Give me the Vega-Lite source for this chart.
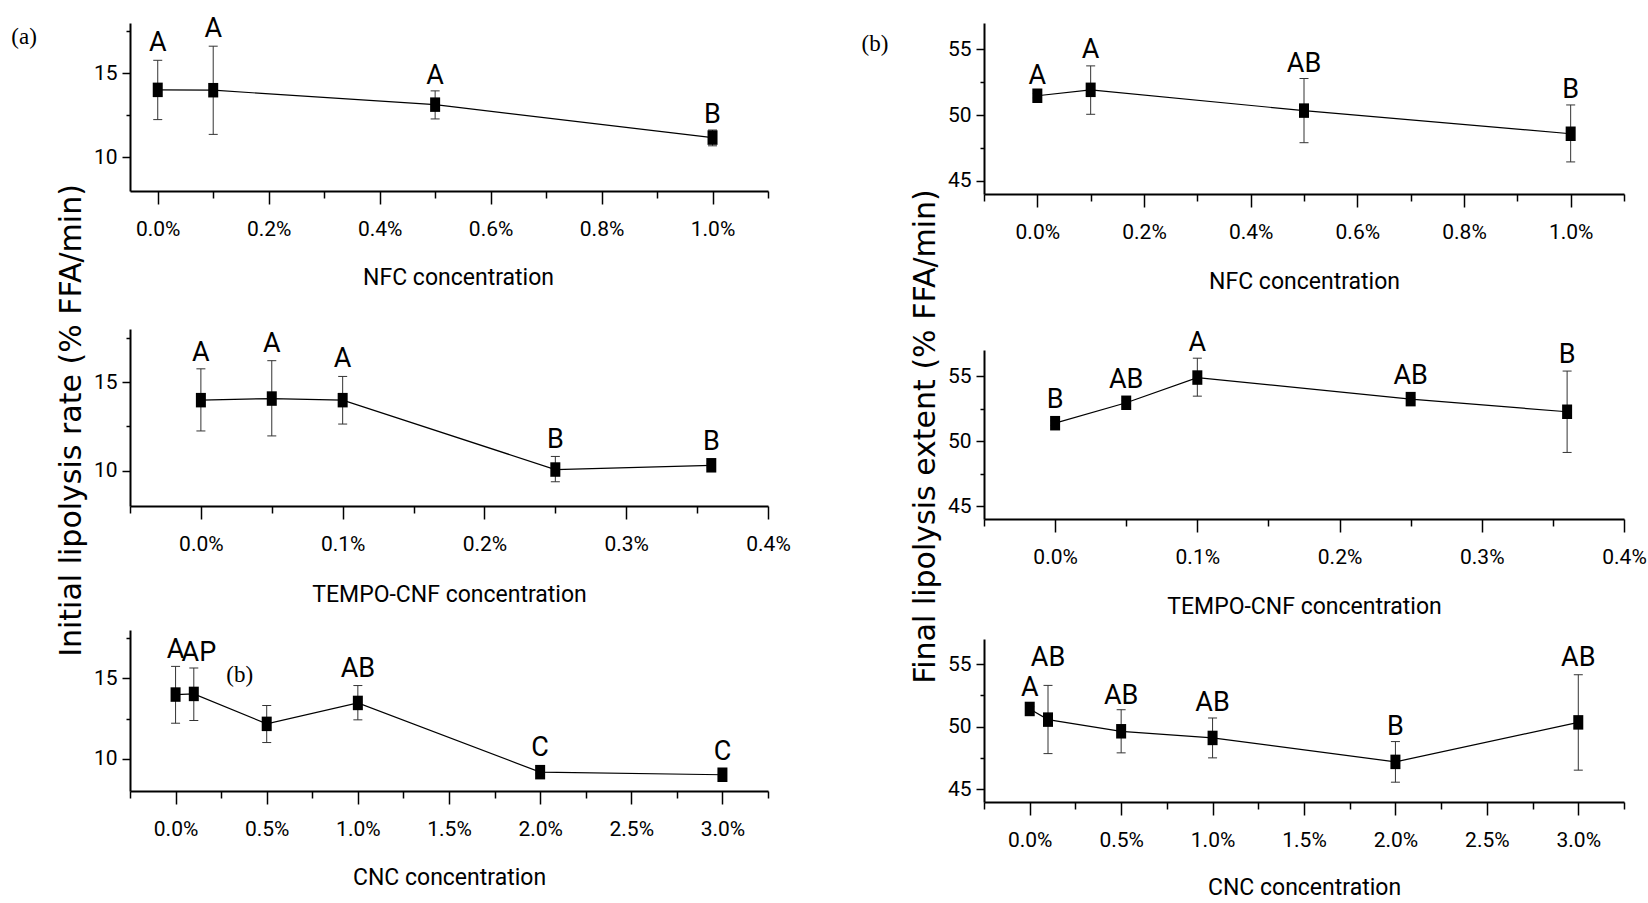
{
  "$schema": "https://vega.github.io/schema/vega-lite/v6.json",
  "background": "white",
  "padding": {"left": 11, "top": 15, "right": 3, "bottom": 0},
  "autosize": {"type": "pad"},
  "spacing": 70,
  "hconcat": [
    {
      "bounds": "flush",
      "spacing": 0,
      "vconcat": [
        {
          "width": 638, "height": 168,
          "data": {"values": [
            {"x": 0, "mean": 14.02, "lo": 12.25, "hi": 15.78, "label": "A", "lx": 0, "ly": 16.33},
            {"x": 0.1, "mean": 14.0, "lo": 11.37, "hi": 16.62, "label": "A", "lx": 0.1, "ly": 17.15},
            {"x": 0.5, "mean": 13.14, "lo": 12.29, "hi": 13.96, "label": "A", "lx": 0.5, "ly": 14.37},
            {"x": 1.0, "mean": 11.18, "lo": 10.69, "hi": 11.63, "label": "B", "lx": 1.0, "ly": 12.06}
          ]},
          "resolve": {"axis": {"x": "independent", "y": "independent"}},
          "layer": [
            {"mark": {"type": "line", "color": "black", "strokeWidth": 1.2},
             "encoding": {
               "x": {"field": "x", "type": "quantitative", "scale": {"domain": [-0.05, 1.1], "nice": false, "zero": false},
                     "axis": {"values": [0, 0.2, 0.4, 0.6, 0.8, 1.0], "labelExpr": "format(datum.value, '.1f') + '%'", "title": "NFC concentration", "titleX": 328, "titleY": 93}},
               "y": {"field": "mean", "type": "quantitative", "scale": {"domain": [8, 18], "nice": false, "zero": false},
                     "axis": {"values": [10, 15], "title": null}}
             }},
            {"mark": {"type": "rule", "color": "#333333", "strokeWidth": 1},
             "encoding": {
               "x": {"field": "x", "type": "quantitative", "scale": {"domain": [-0.05, 1.1], "nice": false, "zero": false},
                     "axis": {"orient": "bottom", "values": [0.1, 0.3, 0.5, 0.7, 0.9, 1.1], "labels": false, "domain": false, "tickSize": 7, "title": null}},
               "y": {"field": "lo", "type": "quantitative", "scale": {"domain": [8, 18], "nice": false, "zero": false},
                     "axis": {"orient": "left", "values": [12.5, 17.5], "labels": false, "domain": false, "tickSize": 4, "title": null}},
               "y2": {"field": "hi"}
             }},
            {"mark": {"type": "tick", "orient": "horizontal", "size": 9, "thickness": 1, "color": "#333333", "opacity": 1},
             "encoding": {
               "x": {"field": "x", "type": "quantitative", "scale": {"domain": [-0.05, 1.1], "nice": false, "zero": false}, "axis": null},
               "y": {"field": "lo", "type": "quantitative", "scale": {"domain": [8, 18], "nice": false, "zero": false}, "axis": null}
             }},
            {"mark": {"type": "tick", "orient": "horizontal", "size": 9, "thickness": 1, "color": "#333333", "opacity": 1},
             "encoding": {
               "x": {"field": "x", "type": "quantitative", "scale": {"domain": [-0.05, 1.1], "nice": false, "zero": false}, "axis": null},
               "y": {"field": "hi", "type": "quantitative", "scale": {"domain": [8, 18], "nice": false, "zero": false}, "axis": null}
             }},
            {"mark": {"type": "point", "shape": "M-0.69,-1L0.69,-1L0.69,1L-0.69,1Z", "size": 210, "filled": true, "color": "black", "opacity": 1},
             "encoding": {
               "x": {"field": "x", "type": "quantitative", "scale": {"domain": [-0.05, 1.1], "nice": false, "zero": false}, "axis": null},
               "y": {"field": "mean", "type": "quantitative", "scale": {"domain": [8, 18], "nice": false, "zero": false}, "axis": null}
             }},
            {"mark": {"type": "text", "font": "Roboto", "fontSize": 27, "baseline": "alphabetic", "align": "center", "color": "black"},
             "encoding": {
               "x": {"field": "lx", "type": "quantitative", "scale": {"domain": [-0.05, 1.1], "nice": false, "zero": false}, "axis": null},
               "y": {"field": "ly", "type": "quantitative", "scale": {"domain": [8, 18], "nice": false, "zero": false}, "axis": null},
               "text": {"field": "label"}
             }},
            {"data": {"values": [{"tag": "(a)"}]},
             "mark": {"type": "text", "font": "Liberation Serif", "fontSize": 23, "baseline": "middle", "align": "left", "color": "black"},
             "encoding": {
               "x": {"datum": -0.264, "type": "quantitative", "scale": {"domain": [-0.05, 1.1], "nice": false, "zero": false}, "axis": null},
               "y": {"datum": 17.17, "type": "quantitative", "scale": {"domain": [8, 18], "nice": false, "zero": false}, "axis": null},
               "text": {"field": "tag"}
             }}
          ]
        },
        {"width": 10, "height": 138, "data": {"values": []}, "mark": "point"},
        {
          "width": 638, "height": 177,
          "data": {"values": [
            {"x": 0, "mean": 13.98, "lo": 12.24, "hi": 15.75, "label": "A", "lx": 0, "ly": 16.21},
            {"x": 0.05, "mean": 14.07, "lo": 11.96, "hi": 16.21, "label": "A", "lx": 0.05, "ly": 16.68},
            {"x": 0.1, "mean": 13.98, "lo": 12.63, "hi": 15.32, "label": "A", "lx": 0.1, "ly": 15.84},
            {"x": 0.25, "mean": 10.06, "lo": 9.37, "hi": 10.8, "label": "B", "lx": 0.25, "ly": 11.27},
            {"x": 0.36, "mean": 10.3, "lo": 10.2, "hi": 10.4, "label": "B", "lx": 0.36, "ly": 11.18}
          ]},
          "resolve": {"axis": {"x": "independent", "y": "independent"}},
          "layer": [
            {"mark": {"type": "line", "color": "black", "strokeWidth": 1.2},
             "encoding": {
               "x": {"field": "x", "type": "quantitative", "scale": {"domain": [-0.05, 0.4], "nice": false, "zero": false},
                     "axis": {"values": [0, 0.1, 0.2, 0.3, 0.4], "labelExpr": "format(datum.value, '.1f') + '%'", "title": "TEMPO-CNF concentration", "titleX": 319, "titleY": 95}},
               "y": {"field": "mean", "type": "quantitative", "scale": {"domain": [8, 18], "nice": false, "zero": false},
                     "axis": {"values": [10, 15], "title": "Initial lipolysis rate (% FFA/min)", "titleX": -50, "titleY": 91}}
             }},
            {"mark": {"type": "rule", "color": "#333333", "strokeWidth": 1},
             "encoding": {
               "x": {"field": "x", "type": "quantitative", "scale": {"domain": [-0.05, 0.4], "nice": false, "zero": false},
                     "axis": {"orient": "bottom", "values": [-0.05, 0.05, 0.15, 0.25, 0.35], "labels": false, "domain": false, "tickSize": 7, "title": null}},
               "y": {"field": "lo", "type": "quantitative", "scale": {"domain": [8, 18], "nice": false, "zero": false},
                     "axis": {"orient": "left", "values": [12.5, 17.5], "labels": false, "domain": false, "tickSize": 4, "title": null}},
               "y2": {"field": "hi"}
             }},
            {"mark": {"type": "tick", "orient": "horizontal", "size": 9, "thickness": 1, "color": "#333333", "opacity": 1},
             "encoding": {
               "x": {"field": "x", "type": "quantitative", "scale": {"domain": [-0.05, 0.4], "nice": false, "zero": false}, "axis": null},
               "y": {"field": "lo", "type": "quantitative", "scale": {"domain": [8, 18], "nice": false, "zero": false}, "axis": null}
             }},
            {"mark": {"type": "tick", "orient": "horizontal", "size": 9, "thickness": 1, "color": "#333333", "opacity": 1},
             "encoding": {
               "x": {"field": "x", "type": "quantitative", "scale": {"domain": [-0.05, 0.4], "nice": false, "zero": false}, "axis": null},
               "y": {"field": "hi", "type": "quantitative", "scale": {"domain": [8, 18], "nice": false, "zero": false}, "axis": null}
             }},
            {"mark": {"type": "point", "shape": "M-0.69,-1L0.69,-1L0.69,1L-0.69,1Z", "size": 210, "filled": true, "color": "black", "opacity": 1},
             "encoding": {
               "x": {"field": "x", "type": "quantitative", "scale": {"domain": [-0.05, 0.4], "nice": false, "zero": false}, "axis": null},
               "y": {"field": "mean", "type": "quantitative", "scale": {"domain": [8, 18], "nice": false, "zero": false}, "axis": null}
             }},
            {"mark": {"type": "text", "font": "Roboto", "fontSize": 27, "baseline": "alphabetic", "align": "center", "color": "black"},
             "encoding": {
               "x": {"field": "lx", "type": "quantitative", "scale": {"domain": [-0.05, 0.4], "nice": false, "zero": false}, "axis": null},
               "y": {"field": "ly", "type": "quantitative", "scale": {"domain": [8, 18], "nice": false, "zero": false}, "axis": null},
               "text": {"field": "label"}
             }}
          ]
        },
        {"width": 10, "height": 124, "data": {"values": []}, "mark": "point"},
        {
          "width": 638, "height": 161,
          "data": {"values": [
            {"x": 0, "mean": 13.99, "lo": 12.21, "hi": 15.74, "label": "A", "lx": 0, "ly": 16.26},
            {"x": 0.1, "mean": 14.03, "lo": 12.38, "hi": 15.64, "label": "AP", "lx": 0.128, "ly": 16.1},
            {"x": 0.5, "mean": 12.17, "lo": 11.01, "hi": 13.31, "label": "", "lx": 0.5, "ly": 13.8},
            {"x": 1.0, "mean": 13.47, "lo": 12.42, "hi": 14.55, "label": "AB", "lx": 1.0, "ly": 15.06},
            {"x": 2.0, "mean": 9.17, "lo": 9.07, "hi": 9.27, "label": "C", "lx": 2.0, "ly": 10.15},
            {"x": 3.0, "mean": 9.01, "lo": 8.91, "hi": 9.11, "label": "C", "lx": 3.0, "ly": 9.94}
          ]},
          "resolve": {"axis": {"x": "independent", "y": "independent"}},
          "layer": [
            {"mark": {"type": "line", "color": "black", "strokeWidth": 1.2},
             "encoding": {
               "x": {"field": "x", "type": "quantitative", "scale": {"domain": [-0.25, 3.25], "nice": false, "zero": false},
                     "axis": {"values": [0, 0.5, 1, 1.5, 2, 2.5, 3], "labelExpr": "format(datum.value, '.1f') + '%'", "title": "CNC concentration", "titleX": 319, "titleY": 93}},
               "y": {"field": "mean", "type": "quantitative", "scale": {"domain": [8, 18], "nice": false, "zero": false},
                     "axis": {"values": [10, 15], "title": null}}
             }},
            {"mark": {"type": "rule", "color": "#333333", "strokeWidth": 1},
             "encoding": {
               "x": {"field": "x", "type": "quantitative", "scale": {"domain": [-0.25, 3.25], "nice": false, "zero": false},
                     "axis": {"orient": "bottom", "values": [-0.25, 0.25, 0.75, 1.25, 1.75, 2.25, 2.75, 3.25], "labels": false, "domain": false, "tickSize": 7, "title": null}},
               "y": {"field": "lo", "type": "quantitative", "scale": {"domain": [8, 18], "nice": false, "zero": false},
                     "axis": {"orient": "left", "values": [12.5, 17.5], "labels": false, "domain": false, "tickSize": 4, "title": null}},
               "y2": {"field": "hi"}
             }},
            {"mark": {"type": "tick", "orient": "horizontal", "size": 9, "thickness": 1, "color": "#333333", "opacity": 1},
             "encoding": {
               "x": {"field": "x", "type": "quantitative", "scale": {"domain": [-0.25, 3.25], "nice": false, "zero": false}, "axis": null},
               "y": {"field": "lo", "type": "quantitative", "scale": {"domain": [8, 18], "nice": false, "zero": false}, "axis": null}
             }},
            {"mark": {"type": "tick", "orient": "horizontal", "size": 9, "thickness": 1, "color": "#333333", "opacity": 1},
             "encoding": {
               "x": {"field": "x", "type": "quantitative", "scale": {"domain": [-0.25, 3.25], "nice": false, "zero": false}, "axis": null},
               "y": {"field": "hi", "type": "quantitative", "scale": {"domain": [8, 18], "nice": false, "zero": false}, "axis": null}
             }},
            {"mark": {"type": "point", "shape": "M-0.69,-1L0.69,-1L0.69,1L-0.69,1Z", "size": 210, "filled": true, "color": "black", "opacity": 1},
             "encoding": {
               "x": {"field": "x", "type": "quantitative", "scale": {"domain": [-0.25, 3.25], "nice": false, "zero": false}, "axis": null},
               "y": {"field": "mean", "type": "quantitative", "scale": {"domain": [8, 18], "nice": false, "zero": false}, "axis": null}
             }},
            {"mark": {"type": "text", "font": "Roboto", "fontSize": 27, "baseline": "alphabetic", "align": "center", "color": "black"},
             "encoding": {
               "x": {"field": "lx", "type": "quantitative", "scale": {"domain": [-0.25, 3.25], "nice": false, "zero": false}, "axis": null},
               "y": {"field": "ly", "type": "quantitative", "scale": {"domain": [8, 18], "nice": false, "zero": false}, "axis": null},
               "text": {"field": "label"}
             }},
            {"data": {"values": [{"tag": "(b)"}]},
             "mark": {"type": "text", "font": "Liberation Serif", "fontSize": 23, "baseline": "middle", "align": "left", "color": "black"},
             "encoding": {
               "x": {"datum": 0.278, "type": "quantitative", "scale": {"domain": [-0.25, 3.25], "nice": false, "zero": false}, "axis": null},
               "y": {"datum": 15.22, "type": "quantitative", "scale": {"domain": [8, 18], "nice": false, "zero": false}, "axis": null},
               "text": {"field": "tag"}
             }}
          ]
        }
      ]
    },
    {
      "bounds": "flush",
      "spacing": 0,
      "vconcat": [
        {
          "width": 640, "height": 171,
          "data": {"values": [
            {"x": 0, "mean": 51.47, "lo": 51.3, "hi": 51.65, "label": "A", "lx": 0, "ly": 52.35},
            {"x": 0.1, "mean": 51.92, "lo": 50.06, "hi": 53.74, "label": "A", "lx": 0.1, "ly": 54.37},
            {"x": 0.5, "mean": 50.34, "lo": 47.9, "hi": 52.78, "label": "AB", "lx": 0.5, "ly": 53.29},
            {"x": 1.0, "mean": 48.58, "lo": 46.44, "hi": 50.77, "label": "B", "lx": 1.0, "ly": 51.32}
          ]},
          "resolve": {"axis": {"x": "independent", "y": "independent"}},
          "layer": [
            {"mark": {"type": "line", "color": "black", "strokeWidth": 1.2},
             "encoding": {
               "x": {"field": "x", "type": "quantitative", "scale": {"domain": [-0.1, 1.1], "nice": false, "zero": false},
                     "axis": {"values": [0, 0.2, 0.4, 0.6, 0.8, 1.0], "labelExpr": "format(datum.value, '.1f') + '%'", "title": "NFC concentration", "titleX": 320, "titleY": 94}},
               "y": {"field": "mean", "type": "quantitative", "scale": {"domain": [44, 57], "nice": false, "zero": false},
                     "axis": {"values": [45, 50, 55], "title": null}}
             }},
            {"mark": {"type": "rule", "color": "#333333", "strokeWidth": 1},
             "encoding": {
               "x": {"field": "x", "type": "quantitative", "scale": {"domain": [-0.1, 1.1], "nice": false, "zero": false},
                     "axis": {"orient": "bottom", "values": [-0.1, 0.1, 0.3, 0.5, 0.7, 0.9, 1.1], "labels": false, "domain": false, "tickSize": 7, "title": null}},
               "y": {"field": "lo", "type": "quantitative", "scale": {"domain": [44, 57], "nice": false, "zero": false},
                     "axis": {"orient": "left", "values": [47.5, 52.5], "labels": false, "domain": false, "tickSize": 4, "title": null}},
               "y2": {"field": "hi"}
             }},
            {"mark": {"type": "tick", "orient": "horizontal", "size": 9, "thickness": 1, "color": "#333333", "opacity": 1},
             "encoding": {
               "x": {"field": "x", "type": "quantitative", "scale": {"domain": [-0.1, 1.1], "nice": false, "zero": false}, "axis": null},
               "y": {"field": "lo", "type": "quantitative", "scale": {"domain": [44, 57], "nice": false, "zero": false}, "axis": null}
             }},
            {"mark": {"type": "tick", "orient": "horizontal", "size": 9, "thickness": 1, "color": "#333333", "opacity": 1},
             "encoding": {
               "x": {"field": "x", "type": "quantitative", "scale": {"domain": [-0.1, 1.1], "nice": false, "zero": false}, "axis": null},
               "y": {"field": "hi", "type": "quantitative", "scale": {"domain": [44, 57], "nice": false, "zero": false}, "axis": null}
             }},
            {"mark": {"type": "point", "shape": "M-0.69,-1L0.69,-1L0.69,1L-0.69,1Z", "size": 210, "filled": true, "color": "black", "opacity": 1},
             "encoding": {
               "x": {"field": "x", "type": "quantitative", "scale": {"domain": [-0.1, 1.1], "nice": false, "zero": false}, "axis": null},
               "y": {"field": "mean", "type": "quantitative", "scale": {"domain": [44, 57], "nice": false, "zero": false}, "axis": null}
             }},
            {"mark": {"type": "text", "font": "Roboto", "fontSize": 27, "baseline": "alphabetic", "align": "center", "color": "black"},
             "encoding": {
               "x": {"field": "lx", "type": "quantitative", "scale": {"domain": [-0.1, 1.1], "nice": false, "zero": false}, "axis": null},
               "y": {"field": "ly", "type": "quantitative", "scale": {"domain": [44, 57], "nice": false, "zero": false}, "axis": null},
               "text": {"field": "label"}
             }},
            {"data": {"values": [{"tag": "(b)"}]},
             "mark": {"type": "text", "font": "Liberation Serif", "fontSize": 23, "baseline": "middle", "align": "left", "color": "black"},
             "encoding": {
               "x": {"datum": -0.3295, "type": "quantitative", "scale": {"domain": [-0.1, 1.1], "nice": false, "zero": false}, "axis": null},
               "y": {"datum": 55.4, "type": "quantitative", "scale": {"domain": [44, 57], "nice": false, "zero": false}, "axis": null},
               "text": {"field": "tag"}
             }},
            {"data": {"values": [{"tag": ""}]},
             "mark": {"type": "text", "font": "Roboto", "fontSize": 27, "baseline": "alphabetic", "align": "center", "color": "black"},
             "encoding": {
               "x": {"datum": 0.1, "type": "quantitative", "scale": {"domain": [-0.1, 1.1], "nice": false, "zero": false}, "axis": null},
               "y": {"datum": 55.91, "type": "quantitative", "scale": {"domain": [44, 57], "nice": false, "zero": false}, "axis": null},
               "text": {"field": "tag"}
             }}
          ]
        },
        {"width": 10, "height": 156, "data": {"values": []}, "mark": "point"},
        {
          "width": 640, "height": 169,
          "data": {"values": [
            {"x": 0, "mean": 51.37, "lo": 51.2, "hi": 51.55, "label": "B", "lx": 0, "ly": 52.51},
            {"x": 0.05, "mean": 52.94, "lo": 52.8, "hi": 53.1, "label": "AB", "lx": 0.05, "ly": 54.11},
            {"x": 0.1, "mean": 54.88, "lo": 53.45, "hi": 56.37, "label": "A", "lx": 0.1, "ly": 56.96},
            {"x": 0.25, "mean": 53.22, "lo": 53.1, "hi": 53.35, "label": "AB", "lx": 0.25, "ly": 54.42},
            {"x": 0.36, "mean": 52.25, "lo": 49.12, "hi": 55.38, "label": "B", "lx": 0.36, "ly": 55.99}
          ]},
          "resolve": {"axis": {"x": "independent", "y": "independent"}},
          "layer": [
            {"mark": {"type": "line", "color": "black", "strokeWidth": 1.2},
             "encoding": {
               "x": {"field": "x", "type": "quantitative", "scale": {"domain": [-0.05, 0.4], "nice": false, "zero": false},
                     "axis": {"values": [0, 0.1, 0.2, 0.3, 0.4], "labelExpr": "format(datum.value, '.1f') + '%'", "title": "TEMPO-CNF concentration", "titleX": 320, "titleY": 94}},
               "y": {"field": "mean", "type": "quantitative", "scale": {"domain": [44, 57], "nice": false, "zero": false},
                     "axis": {"values": [45, 50, 55], "title": "Final lipolysis extent (% FFA/min)", "titleX": -50, "titleY": 86}}
             }},
            {"mark": {"type": "rule", "color": "#333333", "strokeWidth": 1},
             "encoding": {
               "x": {"field": "x", "type": "quantitative", "scale": {"domain": [-0.05, 0.4], "nice": false, "zero": false},
                     "axis": {"orient": "bottom", "values": [-0.05, 0.05, 0.15, 0.25, 0.35], "labels": false, "domain": false, "tickSize": 7, "title": null}},
               "y": {"field": "lo", "type": "quantitative", "scale": {"domain": [44, 57], "nice": false, "zero": false},
                     "axis": {"orient": "left", "values": [47.5, 52.5], "labels": false, "domain": false, "tickSize": 4, "title": null}},
               "y2": {"field": "hi"}
             }},
            {"mark": {"type": "tick", "orient": "horizontal", "size": 9, "thickness": 1, "color": "#333333", "opacity": 1},
             "encoding": {
               "x": {"field": "x", "type": "quantitative", "scale": {"domain": [-0.05, 0.4], "nice": false, "zero": false}, "axis": null},
               "y": {"field": "lo", "type": "quantitative", "scale": {"domain": [44, 57], "nice": false, "zero": false}, "axis": null}
             }},
            {"mark": {"type": "tick", "orient": "horizontal", "size": 9, "thickness": 1, "color": "#333333", "opacity": 1},
             "encoding": {
               "x": {"field": "x", "type": "quantitative", "scale": {"domain": [-0.05, 0.4], "nice": false, "zero": false}, "axis": null},
               "y": {"field": "hi", "type": "quantitative", "scale": {"domain": [44, 57], "nice": false, "zero": false}, "axis": null}
             }},
            {"mark": {"type": "point", "shape": "M-0.69,-1L0.69,-1L0.69,1L-0.69,1Z", "size": 210, "filled": true, "color": "black", "opacity": 1},
             "encoding": {
               "x": {"field": "x", "type": "quantitative", "scale": {"domain": [-0.05, 0.4], "nice": false, "zero": false}, "axis": null},
               "y": {"field": "mean", "type": "quantitative", "scale": {"domain": [44, 57], "nice": false, "zero": false}, "axis": null}
             }},
            {"mark": {"type": "text", "font": "Roboto", "fontSize": 27, "baseline": "alphabetic", "align": "center", "color": "black"},
             "encoding": {
               "x": {"field": "lx", "type": "quantitative", "scale": {"domain": [-0.05, 0.4], "nice": false, "zero": false}, "axis": null},
               "y": {"field": "ly", "type": "quantitative", "scale": {"domain": [44, 57], "nice": false, "zero": false}, "axis": null},
               "text": {"field": "label"}
             }}
          ]
        },
        {"width": 10, "height": 120, "data": {"values": []}, "mark": "point"},
        {
          "width": 640, "height": 163,
          "data": {"values": [
            {"x": 0, "mean": 51.42, "lo": 51.25, "hi": 51.6, "label": "A", "lx": 0, "ly": 52.42},
            {"x": 0.1, "mean": 50.57, "lo": 47.86, "hi": 53.3, "label": "AB", "lx": 0.1, "ly": 54.81},
            {"x": 0.5, "mean": 49.64, "lo": 47.92, "hi": 51.36, "label": "AB", "lx": 0.5, "ly": 51.82},
            {"x": 1.0, "mean": 49.11, "lo": 47.52, "hi": 50.7, "label": "AB", "lx": 1.0, "ly": 51.28},
            {"x": 2.0, "mean": 47.2, "lo": 45.58, "hi": 48.82, "label": "B", "lx": 2.0, "ly": 49.38},
            {"x": 3.0, "mean": 50.35, "lo": 46.54, "hi": 54.15, "label": "AB", "lx": 3.0, "ly": 54.81}
          ]},
          "resolve": {"axis": {"x": "independent", "y": "independent"}},
          "layer": [
            {"mark": {"type": "line", "color": "black", "strokeWidth": 1.2},
             "encoding": {
               "x": {"field": "x", "type": "quantitative", "scale": {"domain": [-0.25, 3.25], "nice": false, "zero": false},
                     "axis": {"values": [0, 0.5, 1, 1.5, 2, 2.5, 3], "labelExpr": "format(datum.value, '.1f') + '%'", "title": "CNC concentration", "titleX": 320, "titleY": 92}},
               "y": {"field": "mean", "type": "quantitative", "scale": {"domain": [44, 57], "nice": false, "zero": false},
                     "axis": {"values": [45, 50, 55], "title": null}}
             }},
            {"mark": {"type": "rule", "color": "#333333", "strokeWidth": 1},
             "encoding": {
               "x": {"field": "x", "type": "quantitative", "scale": {"domain": [-0.25, 3.25], "nice": false, "zero": false},
                     "axis": {"orient": "bottom", "values": [-0.25, 0.25, 0.75, 1.25, 1.75, 2.25, 2.75, 3.25], "labels": false, "domain": false, "tickSize": 7, "title": null}},
               "y": {"field": "lo", "type": "quantitative", "scale": {"domain": [44, 57], "nice": false, "zero": false},
                     "axis": {"orient": "left", "values": [47.5, 52.5], "labels": false, "domain": false, "tickSize": 4, "title": null}},
               "y2": {"field": "hi"}
             }},
            {"mark": {"type": "tick", "orient": "horizontal", "size": 9, "thickness": 1, "color": "#333333", "opacity": 1},
             "encoding": {
               "x": {"field": "x", "type": "quantitative", "scale": {"domain": [-0.25, 3.25], "nice": false, "zero": false}, "axis": null},
               "y": {"field": "lo", "type": "quantitative", "scale": {"domain": [44, 57], "nice": false, "zero": false}, "axis": null}
             }},
            {"mark": {"type": "tick", "orient": "horizontal", "size": 9, "thickness": 1, "color": "#333333", "opacity": 1},
             "encoding": {
               "x": {"field": "x", "type": "quantitative", "scale": {"domain": [-0.25, 3.25], "nice": false, "zero": false}, "axis": null},
               "y": {"field": "hi", "type": "quantitative", "scale": {"domain": [44, 57], "nice": false, "zero": false}, "axis": null}
             }},
            {"mark": {"type": "point", "shape": "M-0.69,-1L0.69,-1L0.69,1L-0.69,1Z", "size": 210, "filled": true, "color": "black", "opacity": 1},
             "encoding": {
               "x": {"field": "x", "type": "quantitative", "scale": {"domain": [-0.25, 3.25], "nice": false, "zero": false}, "axis": null},
               "y": {"field": "mean", "type": "quantitative", "scale": {"domain": [44, 57], "nice": false, "zero": false}, "axis": null}
             }},
            {"mark": {"type": "text", "font": "Roboto", "fontSize": 27, "baseline": "alphabetic", "align": "center", "color": "black"},
             "encoding": {
               "x": {"field": "lx", "type": "quantitative", "scale": {"domain": [-0.25, 3.25], "nice": false, "zero": false}, "axis": null},
               "y": {"field": "ly", "type": "quantitative", "scale": {"domain": [44, 57], "nice": false, "zero": false}, "axis": null},
               "text": {"field": "label"}
             }}
          ]
        }
      ]
    }
  ],
  "config": {
    "view": {"stroke": null},
    "axis": {"grid": false, "domainColor": "black", "domainWidth": 2, "tickColor": "black", "tickWidth": 1.5, "labelColor": "black", "labelFont": "Roboto", "labelFontSize": 21, "titleColor": "black", "titleFontWeight": "normal", "labelFlush": false, "labelOverlap": false},
    "axisX": {"tickSize": 13, "labelPadding": 31, "labelBaseline": "alphabetic", "titleFont": "Roboto", "titleFontSize": 23, "titleBaseline": "alphabetic", "titleAlign": "center"},
    "axisY": {"tickSize": 8, "labelPadding": 5, "titleFont": "DejaVu Sans", "titleFontSize": 30, "titleBaseline": "alphabetic", "titleAlign": "center", "titleAngle": 270}
  }
}
